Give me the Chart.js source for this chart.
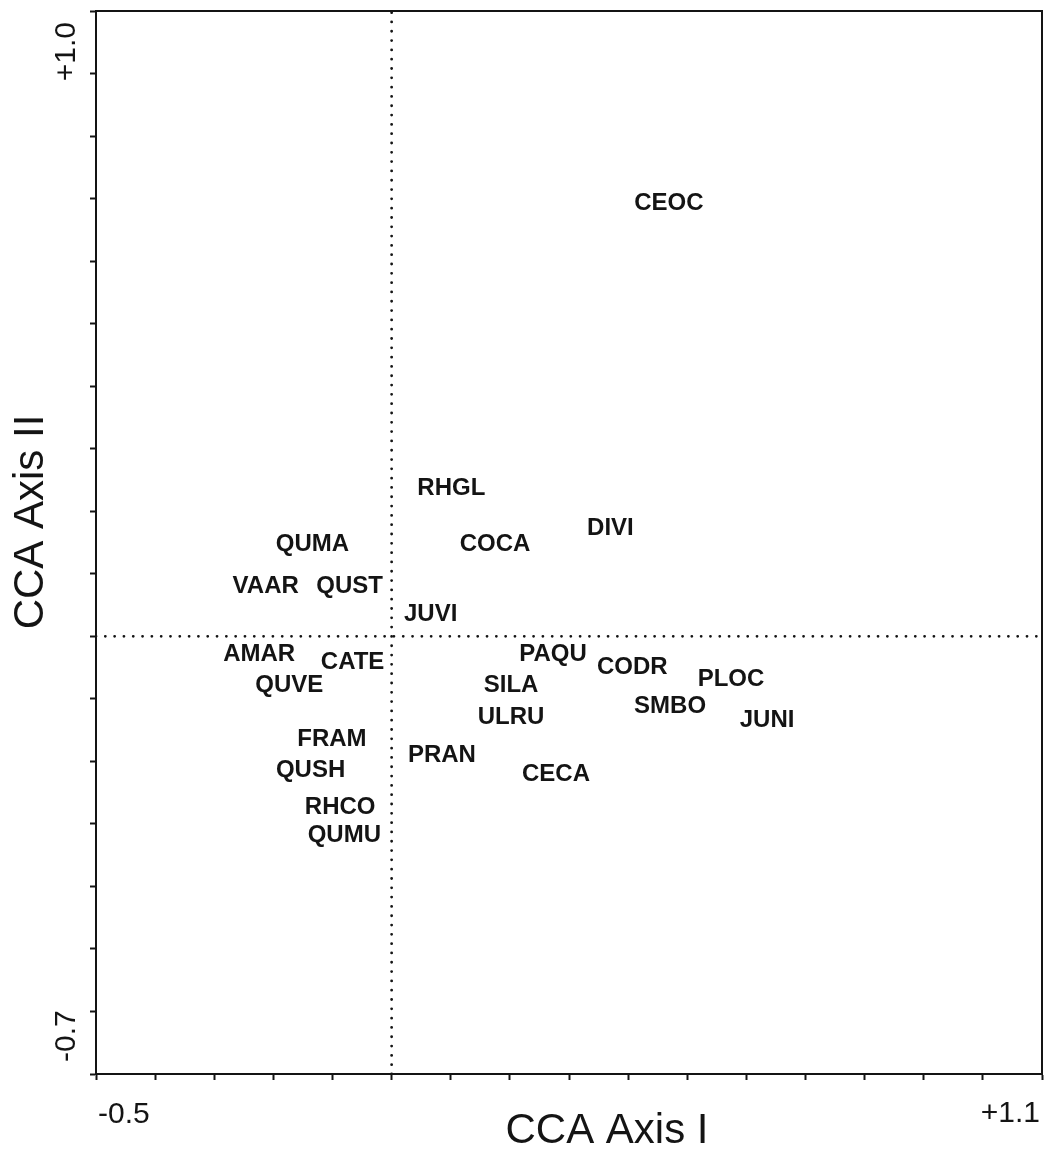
<!DOCTYPE html>
<html>
<head>
<meta charset="utf-8">
<script src="https://cdn.jsdelivr.net/npm/chart.js@4.4.0/dist/chart.umd.min.js"></script>
<style>
  html, body { margin: 0; padding: 0; background: #fff; }
  canvas { display: block; }
</style>
</head>
<body>
<canvas id="cca" width="1047" height="1153"></canvas>
<script>
// species scores on the first two CCA axes
const species = ['CEOC', 'RHGL', 'DIVI', 'QUMA', 'COCA', 'VAAR', 'QUST', 'JUVI',
  'AMAR', 'CATE', 'QUVE', 'PAQU', 'CODR', 'SILA', 'PLOC', 'SMBO', 'JUNI', 'ULRU',
  'FRAM', 'PRAN', 'QUSH', 'CECA', 'RHCO', 'QUMU'];
const axisI = [0.469, 0.101, 0.370, -0.134, 0.175, -0.213, -0.071, 0.066,
  -0.224, -0.066, -0.173, 0.273, 0.407, 0.202, 0.574, 0.471, 0.635, 0.202,
  -0.101, 0.085, -0.137, 0.278, -0.087, -0.080];
const axisII = [0.695, 0.240, 0.175, 0.150, 0.150, 0.083, 0.083, 0.039,
  -0.026, -0.039, -0.075, -0.026, -0.047, -0.076, -0.066, -0.109, -0.132, -0.127,
  -0.161, -0.188, -0.211, -0.218, -0.271, -0.316];

// axis ranges and the labels shown at the axis ends
const xRange = [-0.5, 1.1];
const yRange = [-0.7, 1.0];
const xEndLabels = ['-0.5', '+1.1'];
const yEndLabels = ['-0.7', '+1.0'];
const xTitle = 'CCA Axis I';
const yTitle = 'CCA Axis II';

const INK = '#141414';
const FONT = '"Liberation Sans", Arial, sans-serif';

const points = species.map((s, i) => ({ x: axisI[i], y: axisII[i] }));

const dotted = {
  type: 'line',
  borderColor: INK,
  borderWidth: 2.8,
  borderDash: [0.01, 9.3],
  borderCapStyle: 'round',
  pointRadius: 0,
  fill: false,
};

const ccaPlugin = {
  id: 'ccaPlugin',
  afterDatasetsDraw(chart) {
    const { ctx, chartArea: a, scales } = chart;
    ctx.save();

    // frame
    ctx.strokeStyle = INK;
    ctx.lineWidth = 2;
    ctx.strokeRect(a.left, a.top, a.right - a.left, a.bottom - a.top);

    // species labels centred on their scores
    ctx.fillStyle = INK;
    ctx.font = 'bold 24px ' + FONT;
    ctx.textAlign = 'center';
    ctx.textBaseline = 'alphabetic';
    const meta = chart.getDatasetMeta(0);
    meta.data.forEach((el, i) => {
      ctx.fillText(species[i], el.x, el.y + 8.6);
    });

    // x axis end labels
    ctx.font = '30px ' + FONT;
    ctx.textAlign = 'left';
    ctx.fillText(xEndLabels[0], scales.x.getPixelForValue(xRange[0]) + 2, a.bottom + 49);
    ctx.textAlign = 'right';
    ctx.fillText(xEndLabels[1], scales.x.getPixelForValue(xRange[1]) - 2, a.bottom + 48);

    // y axis end labels (rotated)
    const yx = a.left - 21;
    ctx.save();
    ctx.translate(yx, scales.y.getPixelForValue(yRange[0]) - 12);
    ctx.rotate(-Math.PI / 2);
    ctx.textAlign = 'left';
    ctx.fillText(yEndLabels[0], 0, 0);
    ctx.restore();
    ctx.save();
    ctx.translate(yx, scales.y.getPixelForValue(yRange[1]) + 11);
    ctx.rotate(-Math.PI / 2);
    ctx.textAlign = 'right';
    ctx.fillText(yEndLabels[1], 0, 0);
    ctx.restore();

    // axis titles
    ctx.font = '42px ' + FONT;
    ctx.textAlign = 'center';
    ctx.fillText(xTitle, a.left + 511, a.bottom + 69);
    ctx.save();
    ctx.translate(43, a.top + 511);
    ctx.rotate(-Math.PI / 2);
    ctx.fillText(yTitle, 0, 0);
    ctx.restore();

    ctx.restore();
  }
};

const tickGrid = {
  drawOnChartArea: false,
  drawTicks: true,
  tickLength: 6,
  tickWidth: 2,
  tickColor: INK,
};

new Chart(document.getElementById('cca').getContext('2d'), {
  type: 'scatter',
  data: {
    datasets: [
      { label: 'species', data: points, pointRadius: 0, pointHoverRadius: 0 },
      Object.assign({ label: 'axis0v', data: [{ x: 0, y: yRange[0] }, { x: 0, y: yRange[1] }] }, dotted),
      Object.assign({ label: 'axis0h', data: [{ x: xRange[0], y: 0 }, { x: xRange[1], y: 0 }] }, dotted),
    ],
  },
  options: {
    responsive: false,
    animation: false,
    events: [],
    layout: { padding: { top: 11, right: 5, left: 0, bottom: 0 } },
    plugins: { legend: { display: false }, tooltip: { enabled: false } },
    scales: {
      x: {
        type: 'linear',
        min: xRange[0],
        max: xRange[1],
        ticks: { display: false, stepSize: 0.1 },
        grid: tickGrid,
        border: { display: true, color: INK, width: 2 },
        afterFit(scale) { scale.height = 79; },
      },
      y: {
        type: 'linear',
        min: yRange[0],
        max: yRange[1],
        ticks: { display: false, stepSize: 0.1 },
        grid: tickGrid,
        border: { display: true, color: INK, width: 2 },
        afterFit(scale) { scale.width = 96; },
      },
    },
  },
  plugins: [ccaPlugin],
});
</script>
</body>
</html>
